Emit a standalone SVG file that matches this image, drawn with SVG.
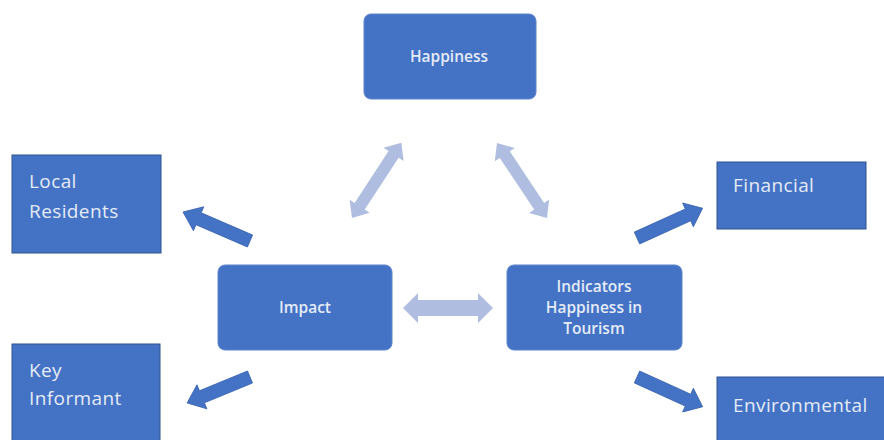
<svg xmlns="http://www.w3.org/2000/svg" width="884" height="440" viewBox="0 0 884 440">
<style>
.box{fill:#4472C4;stroke:#2F528F;stroke-width:1}
.rbox{fill:#4472C4;stroke:#5b84cc;stroke-width:1}
.t{font-family:"Open Sans","Liberation Sans",sans-serif;fill:#e4ecf7}
.big{font-size:19px;letter-spacing:0.4px}
.small{font-size:15.5px;font-weight:600;text-anchor:middle}
.dark{fill:#4472C4;stroke:#3a64b0;stroke-width:0.8}
.light{fill:#aebde0}
</style>
<rect width="884" height="440" fill="#ffffff"/>
<g id="happiness"><rect class="rbox" x="364" y="14" width="172" height="85" rx="7"/><text class="t small" x="449" y="62">Happiness</text></g>
<g id="impact"><rect class="rbox" x="218" y="265" width="174" height="85" rx="7"/><text class="t small" x="305" y="313">Impact</text></g>
<g id="indicators"><rect class="rbox" x="507" y="265" width="175" height="85" rx="7"/><text class="t small" x="594" y="292">Indicators</text><text class="t small" x="594" y="313">Happiness in</text><text class="t small" x="594" y="334">Tourism</text></g>
<g id="local-residents"><rect class="box" x="12" y="155" width="149" height="98"/><text class="t big" x="29" y="188">Local</text><text class="t big" x="29" y="218">Residents</text></g>
<g id="key-informant"><rect class="box" x="12" y="344" width="148" height="100"/><text class="t big" x="29" y="377">Key</text><text class="t big" x="29" y="405">Informant</text></g>
<g id="financial"><rect class="box" x="717" y="162" width="149" height="67"/><text class="t big" x="733" y="192">Financial</text></g>
<g id="environmental"><rect class="box" x="717" y="377" width="172" height="70"/><text class="t big" x="733" y="412">Environmental</text></g>
<g id="connectors">
<polygon class="dark" transform="translate(250,241) rotate(203.4)" points="0,-6.5 56,-6.5 56,-13 73,0 56,13 56,6.5 0,6.5"/>
<polygon class="dark" transform="translate(637,238) rotate(-24.4)" points="0,-6.5 56,-6.5 56,-13 72,0 56,13 56,6.5 0,6.5"/>
<polygon class="dark" transform="translate(250,377) rotate(157.6)" points="0,-6.5 52,-6.5 52,-13 68,0 52,13 52,6.5 0,6.5"/>
<polygon class="dark" transform="translate(637,377) rotate(24.4)" points="0,-6.5 56,-6.5 56,-13 72,0 56,13 56,6.5 0,6.5"/>
<polygon class="light" transform="translate(403,308)" points="0,0 15,-15 15,-8 75,-8 75,-15 90,0 75,15 75,8 15,8 15,15"/>
<polygon class="light" transform="translate(352,218) rotate(-56.8)" points="0,0 14,-12 14,-6 76,-6 76,-12 90,0 76,12 76,6 14,6 14,12"/>
<polygon class="light" transform="translate(497,143) rotate(56.3)" points="0,0 14,-12 14,-6 76,-6 76,-12 90,0 76,12 76,6 14,6 14,12"/>
</g>
</svg>
